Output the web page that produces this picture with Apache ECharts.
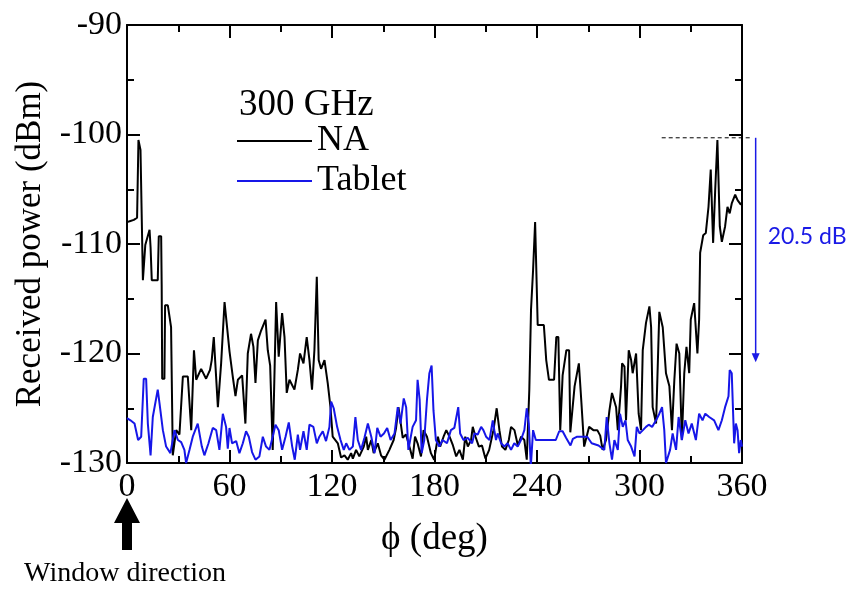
<!DOCTYPE html>
<html>
<head>
<meta charset="utf-8">
<script src="https://cdn.jsdelivr.net/npm/echarts@6/dist/echarts.min.js"></script>
<style>
  html, body { margin: 0; padding: 0; background: #fff; }
  #main { width: 856px; height: 589px; }
</style>
</head>
<body>
<div id="main"></div>
<script>
// received power vs rotation angle, 300 GHz
var naDeg = [0, 2, 4, 5.9, 6.7, 7.9, 9.3, 10.7, 11.3, 13.2, 13.8, 14.5, 18, 18.6, 20, 20.3, 20.6, 21.9, 22.3, 23.9,
  25.8, 26.8, 28.8, 30.7, 32.7, 35.6, 37.6, 39.2, 40.5, 41.4, 43.4, 46.3, 48.6, 49.6, 50.8, 51.6, 53.2, 55.1, 57.1, 58,
  60, 61.9, 63.5, 64.9, 67.4, 69.3, 70.7, 72.6, 74, 75.2, 76.6, 78.5, 81.1, 82.4, 83.8, 85.3, 87.3, 88.8, 90.8, 92.2,
  93.5, 95.1, 98, 100, 101.3, 103.3, 105.2, 106.8, 108.3, 109.7, 111.1, 112.2, 113.6, 115.6, 117.5, 119.1, 120.4, 121.4, 123.4, 125.3,
  127.3, 129.2, 131.2, 132.2, 134.1, 136, 138.6, 140, 141, 143, 144.4, 146.8, 148.7, 150.7, 153.6, 156.1, 157.5, 158.9, 160, 161.4,
  163.3, 165.3, 167.2, 168.6, 170.1, 172.1, 173.6, 175.6, 177.9, 179.8, 182, 183.3, 185.3, 186.9, 188.8, 190.8, 192.7, 194.6, 196.6, 198,
  199.5, 201.4, 202.4, 204, 206, 207.8, 209.8, 212, 214.5, 216.4, 218, 219.5, 221.5, 223.5, 224.8, 226.8, 228.8, 230.7, 232.6, 234,
  235.5, 236.5, 237.7, 238.9, 239.6, 240.4, 244, 244.5, 245.4, 247, 250, 251.3, 252.5, 253.6, 255, 257.2, 258.8, 259.5, 262, 264.5,
  266, 267.6, 270.5, 273, 275.3, 277, 278.4, 280.4, 282.4, 283.9, 286.3, 287.3, 289.2, 289.8, 291.2, 292.1, 293.7, 295.1, 296, 298,
  299.5, 300.9, 301.9, 303.8, 305.8, 306.8, 307.7, 309.7, 311.6, 313.6, 315.5, 317.5, 319, 320.4, 321.7, 323.3, 324.8, 326.2, 327.5, 329.1,
  330, 332, 333.9, 334.9, 335.5, 337.3, 338.8, 340.4, 341.7, 343.1, 344.3, 345.6, 347, 348.2, 350.1, 351.5, 352.8, 354, 356, 357.4,
  359.3, 360];
var naDbm = [-108, -107.9, -107.8, -107.6, -100.5, -101.4, -113.3, -110.1, -110.1, -108.7, -110.3, -113.3, -113.3, -109.3, -109.3, -113.7, -122.3, -122.3, -115.6, -115.6,
  -117.6, -129.3, -127, -127.4, -122.1, -122.1, -127, -119.7, -122.4, -122.4, -121.4, -122.3, -121.5, -120.6, -118.5, -118.5, -124.9, -120.9, -115.3, -115.3,
  -119.8, -122.1, -123.9, -122.4, -122, -126.4, -120, -118.2, -119.4, -122.7, -118.8, -117.9, -116.9, -119.7, -121.1, -128.8, -115.3, -120.3, -116.3, -118.5,
  -123.6, -122.4, -123.3, -121.5, -120, -120.9, -118.5, -120.6, -123.3, -119.7, -113, -120.6, -121.4, -120.6, -122.7, -124.9, -127.6, -127.7, -128.2, -129.5,
  -129.3, -129.7, -129.1, -129.6, -128.8, -129.4, -128.5, -127.6, -128.8, -127.9, -129.1, -128.2, -129.3, -129.7, -128.8, -127.9, -126.8, -124.9, -126.1, -127.7,
  -127.4, -128.5, -129.6, -127.6, -128.2, -129.4, -127, -127.6, -129.1, -129.7, -127.6, -128.5, -127.6, -127, -127.6, -128.4, -129.4, -128.8, -129.7, -127.6,
  -128.5, -127.9, -126.7, -127.6, -128.5, -128.4, -129.6, -128.8, -127, -125, -127, -128.5, -128.8, -127.9, -126.7, -127, -128.4, -127.6, -127.9, -129.7,
  -123.3, -116, -112.4, -108, -108, -117.4, -117.4, -118.5, -120.6, -122.4, -122.4, -118.5, -118.5, -127, -122, -119.7, -119.7, -127.2, -123, -120.9,
  -124.5, -128.5, -126.7, -127, -127, -127.5, -128.8, -127.9, -125.2, -123.6, -124.9, -127, -123, -120.9, -121.2, -126.1, -119.7, -120.6, -121.8, -120,
  -125.5, -127, -119.7, -117.2, -115.7, -117.6, -124.9, -126.4, -116.2, -117.6, -121.8, -123, -127, -122.4, -119.1, -120, -127.9, -121.8, -119.4, -121.8,
  -116.9, -115.4, -120, -116.9, -110.8, -109.2, -109, -106.6, -103.2, -109.9, -105.1, -100.5, -108.4, -109.8, -108.4, -106.6, -107.2, -106.3, -105.5, -106,
  -106.4, -106.2];

var tabDeg = [0, 2, 4.4, 6.5, 8.3, 9.8, 11.2, 12.2, 13.8, 15.1, 18, 19, 21, 22.9, 25.4, 27.8, 29.8, 31.7, 33.6, 34.6,
  36.6, 38.5, 41.4, 43.8, 45.3, 47.7, 50.2, 52.2, 54.1, 56.1, 58, 59, 60, 61.5, 63.9, 65.8, 67.8, 69.7, 71.3, 73.2,
  75.2, 77.5, 79.5, 81.4, 83.4, 85.3, 86.9, 88.8, 90.8, 92.8, 94.7, 96.7, 98.2, 100, 101.3, 103.3, 105.2, 106.8, 109.1, 111.1,
  112.6, 114.6, 116.5, 118.5, 119.5, 121, 123, 125, 126.9, 128.3, 130.2, 132.2, 133.7, 135.1, 137, 139, 141, 143, 144.9, 146.5,
  148.4, 150.4, 152.3, 154.3, 156.6, 158.5, 160.1, 162, 163.4, 164.7, 167.2, 169.2, 170.1, 171.3, 172.5, 174, 175.6, 177, 178.3, 179.4,
  180.8, 182.8, 184.7, 187.3, 189.6, 191.6, 193.9, 195, 197, 199.5, 202, 203.4, 205.3, 207.3, 208.6, 210.2, 212.2, 214.1, 215, 216,
  217, 219, 220.9, 222.8, 224.8, 226.7, 228.7, 230.6, 232.6, 234, 235.2, 236.4, 237.7, 239.3, 251, 253, 255, 257, 259.6, 261,
  263.5, 269.4, 272, 276, 279.4, 280.8, 282.4, 283.9, 285.3, 287.3, 288.6, 290.2, 291.8, 293.1, 295.1, 297.1, 298.4, 300, 302, 303.8,
  305.4, 307.4, 309.7, 311.6, 313.2, 314.5, 315.5, 317.9, 319.4, 321.4, 322.9, 324.8, 326.8, 328.7, 330.6, 333, 334.9, 336.9, 338.5, 340.8,
  343.7, 346.2, 348.2, 350.1, 352.1, 352.8, 354, 355.4, 356.4, 357.4, 358.3, 359.3, 360];
var tabDbm = [-125.9, -126.1, -126.4, -127.9, -127.6, -122.3, -122.3, -126.4, -129.3, -125.8, -123.3, -124.5, -127, -128.5, -129.1, -127, -127.9, -128.1, -128.8, -130,
  -128.8, -127.6, -126.4, -128.5, -129.3, -128.2, -126.8, -127, -128.8, -125.5, -126.7, -128.7, -126.8, -128.2, -128, -129.1, -128.2, -127.1, -127.6, -129,
  -129.7, -129.4, -127.6, -128.5, -128.8, -127.6, -126.5, -127, -128.8, -127.6, -126.3, -128.5, -129.7, -127.4, -128.8, -127.1, -128.8, -126.5, -126.7, -128.2,
  -127.6, -127.1, -128, -126.7, -124.4, -125, -126.7, -127.9, -128.8, -128.2, -128.8, -128.5, -125.8, -127.9, -128.8, -127.7, -126.4, -127.6, -129.1, -126.8,
  -127.6, -127.3, -126.8, -127.9, -127.3, -124.9, -126.4, -124.1, -124.9, -128.8, -126.7, -126.1, -122.4, -124.2, -129.1, -127.9, -124.2, -121.8, -121.1, -125.2,
  -127.9, -128.5, -127.9, -128.2, -127, -126.8, -124.9, -127.3, -127.9, -127.7, -128.2, -127.3, -127.4, -126.7, -127, -127.6, -127.9, -126.1, -127, -127.9,
  -127.3, -128.2, -128.5, -128.2, -128.8, -128.2, -128.5, -127.9, -127, -125, -126.4, -130.3, -127, -127.9, -127.9, -127.1, -127.1, -127.7, -128.4, -127.8,
  -127.6, -127.6, -128.2, -128.4, -128.8, -125.8, -128.2, -129.7, -127.9, -128.8, -125.5, -126.7, -126.1, -127.9, -128.5, -129.4, -126.7, -127.3, -127, -126.7,
  -126.5, -126.7, -126.1, -125.5, -124.9, -127, -130, -128.8, -127.3, -128.8, -125.8, -127.9, -126.1, -127.3, -126.4, -127.9, -125.5, -126.1, -125.5, -125.8,
  -126.1, -127, -126.1, -124.9, -123.9, -121.5, -121.8, -128.2, -126.4, -127, -129.1, -127.9, -128.5];

// annotation: NA peak level and the drop to the tablet peak
var peakLevel = -100.3;
var dropDb = 20.5;

function pairs(xs, ys) {
    return xs.map(function (x, i) { return [x, ys[i]]; });
}

var serif = 'Liberation Serif';
var chart = echarts.init(document.getElementById('main'));

var lineStyle = { color: '#000', width: 2 };
function xAxisOf(pos, labels) {
    return {
        type: 'value', position: pos, min: 0, max: 360, interval: 60,
        axisLine: { onZero: false, lineStyle: lineStyle },
        axisTick: { inside: true, length: 13, lineStyle: lineStyle },
        minorTick: { show: true, splitNumber: 2, length: 7, lineStyle: lineStyle },
        splitLine: { show: false },
        axisLabel: { show: labels, color: '#000', fontFamily: serif, fontSize: 34, margin: 7 }
    };
}
function yAxisOf(pos, labels) {
    return {
        type: 'value', position: pos, min: -130, max: -90, interval: 10,
        axisLine: { onZero: false, lineStyle: lineStyle },
        axisTick: { inside: true, length: 13, lineStyle: lineStyle },
        minorTick: { show: true, splitNumber: 2, length: 7, lineStyle: lineStyle },
        splitLine: { show: false },
        axisLabel: { show: labels, color: '#000', fontFamily: serif, fontSize: 34, margin: 5 }
    };
}

var xBottom = xAxisOf('bottom', true);
xBottom.name = 'ϕ (deg)';
xBottom.nameLocation = 'middle';
xBottom.nameGap = 58;
xBottom.nameTextStyle = { color: '#000', fontFamily: serif, fontSize: 37 };
var yLeft = yAxisOf('left', true);
yLeft.name = 'Received power (dBm)';
yLeft.nameLocation = 'middle';
yLeft.nameGap = 77;
yLeft.nameTextStyle = { color: '#000', fontFamily: serif, fontSize: 35 };
var xTop = xAxisOf('top', false);
var yRight = yAxisOf('right', false);

var option = {
    animation: false,
    backgroundColor: '#fff',
    title: {
        text: '300 GHz', left: 234, top: 82,
        textStyle: { color: '#000', fontFamily: serif, fontSize: 37, fontWeight: 'normal' }
    },
    legend: {
        orient: 'vertical', left: 232, top: 118,
        icon: 'rect', itemWidth: 75, itemHeight: 2, itemGap: 4,
        textStyle: { color: '#000', fontFamily: serif, fontSize: 36 },
        data: ['NA', 'Tablet']
    },
    grid: { left: 127, top: 25, width: 615, height: 438 },
    xAxis: [xBottom, xTop],
    yAxis: [yLeft, yRight],
    series: [
        {
            name: 'NA', type: 'line', data: pairs(naDeg, naDbm),
            showSymbol: false, symbol: 'none', clip: true,
            lineStyle: { color: '#000', width: 2 }, itemStyle: { color: '#000' }
        },
        {
            name: 'Tablet', type: 'line', data: pairs(tabDeg, tabDbm),
            showSymbol: false, symbol: 'none', clip: true,
            lineStyle: { color: '#1616e8', width: 2 }, itemStyle: { color: '#1616e8' }
        }
    ]
};
chart.setOption(option);

// annotations placed through the axis scales
var yTop = chart.convertToPixel({ yAxisIndex: 0 }, peakLevel);
var yLow = chart.convertToPixel({ yAxisIndex: 0 }, peakLevel - dropDb);
var xDashA = chart.convertToPixel({ xAxisIndex: 0 }, 313);
var xDashB = chart.convertToPixel({ xAxisIndex: 0 }, 365);
var xArrow = chart.convertToPixel({ xAxisIndex: 0 }, 368);
var x0 = chart.convertToPixel({ xAxisIndex: 0 }, 0);
var blue = '#1a1ae6';

chart.setOption({
    graphic: [
        { type: 'line', shape: { x1: xDashA, y1: yTop, x2: xDashB, y2: yTop },
          style: { stroke: '#000', lineWidth: 1, lineDash: [4, 3] }, silent: true },
        { type: 'line', shape: { x1: xArrow, y1: yTop, x2: xArrow, y2: yLow - 8 },
          style: { stroke: blue, lineWidth: 1.5 }, silent: true },
        { type: 'polygon', shape: { points: [[xArrow - 4, yLow - 9], [xArrow + 4, yLow - 9], [xArrow, yLow]] },
          style: { fill: blue }, silent: true },
        { type: 'text', x: xArrow + 12, y: (yTop + yLow) / 2 - 13,
          style: { text: dropDb + ' dB', fill: blue, font: '23px Lato', textVerticalAlign: 'middle' }, silent: true },
        { type: 'polygon', shape: { points: [[x0, 498], [x0 - 13, 523], [x0 - 5, 523], [x0 - 5, 550], [x0 + 5, 550], [x0 + 5, 523], [x0 + 13, 523]] },
          style: { fill: '#000' }, silent: true },
        { type: 'text', x: x0 - 2, y: 574,
          style: { text: 'Window direction', fill: '#000', font: '28px "Liberation Serif"', textAlign: 'center', textVerticalAlign: 'middle' }, silent: true }
    ]
});
</script>
</body>
</html>
